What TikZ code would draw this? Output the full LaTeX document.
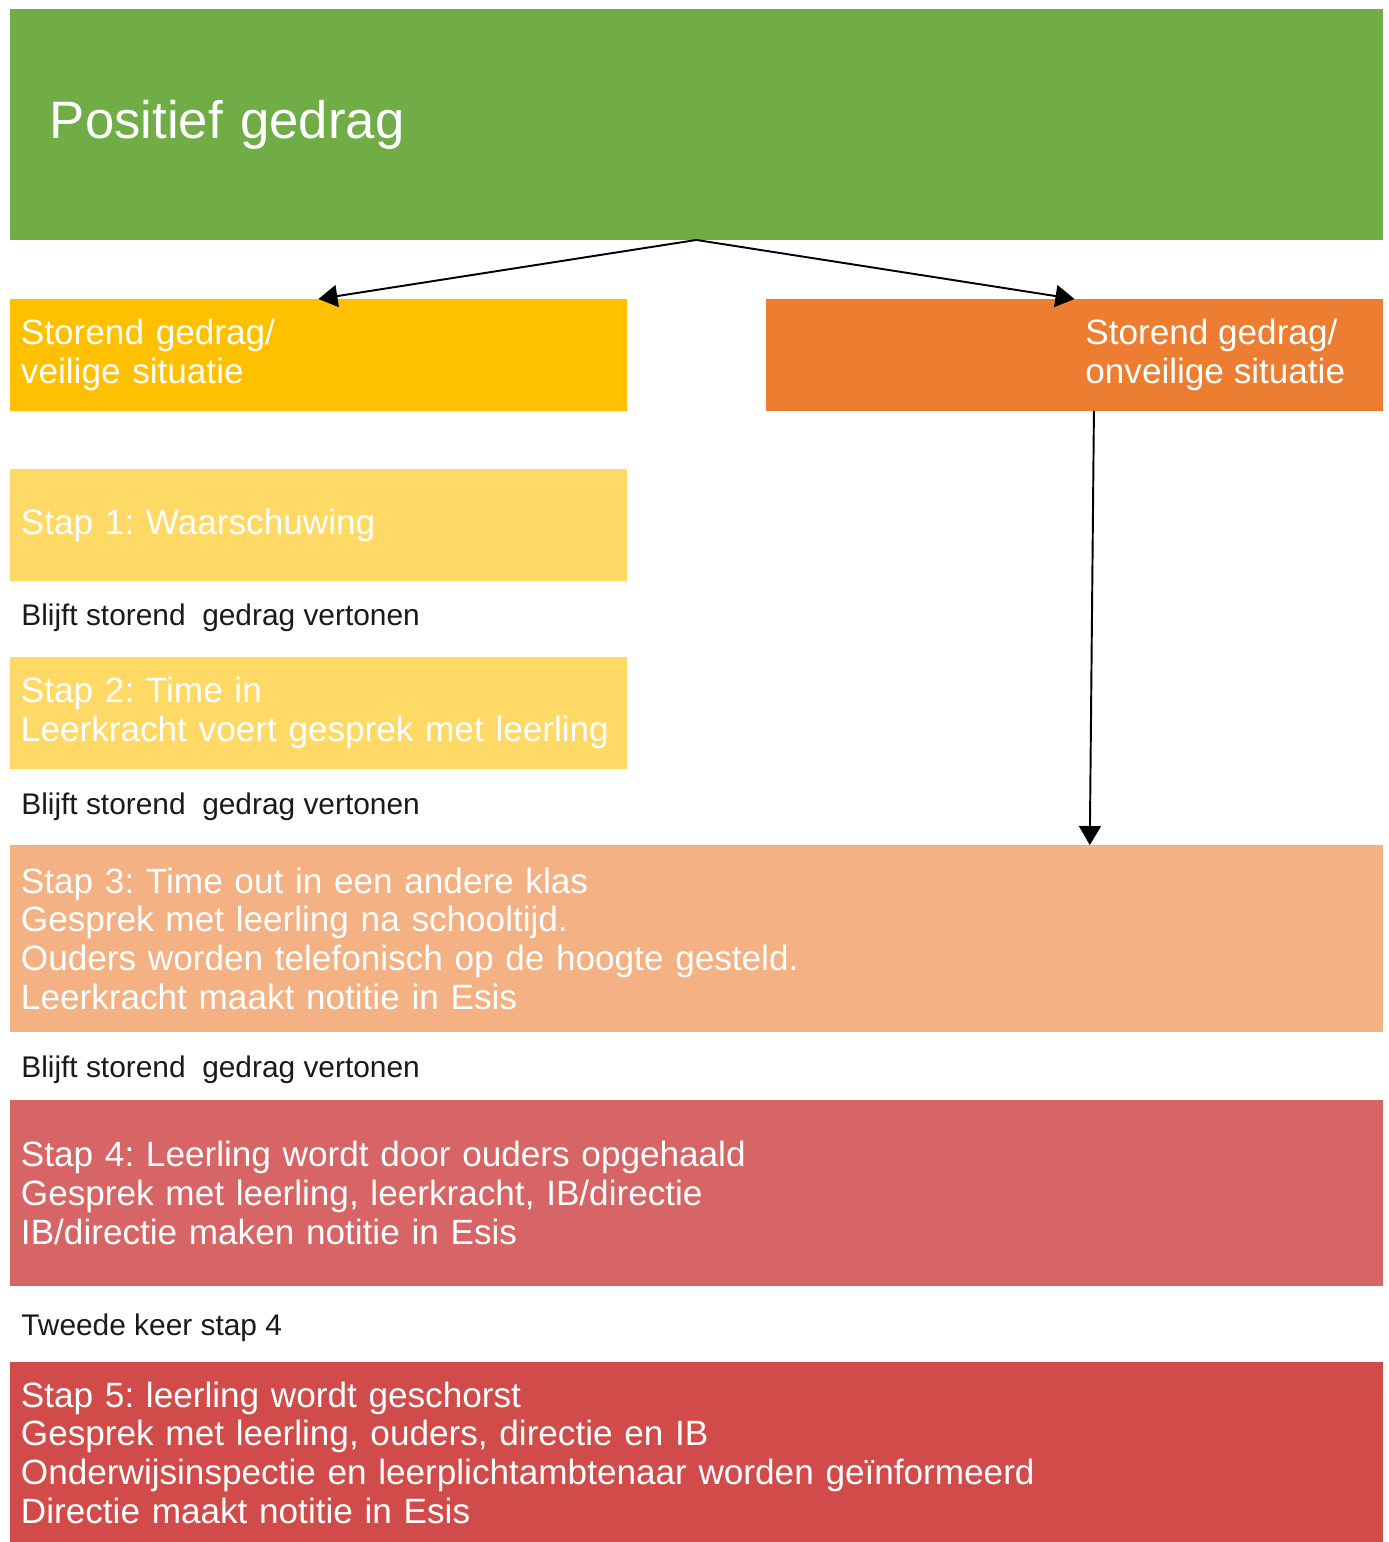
\documentclass[tikz,border=0pt]{standalone}
\usepackage{fontspec}
\setmainfont{Liberation Sans}
\usepackage{tikz}
\usetikzlibrary{arrows.meta,positioning,calc}
\definecolor{Leaf}{HTML}{70AD47}
\definecolor{Amber}{HTML}{FFC000}
\definecolor{Flame}{HTML}{ED7D31}
\definecolor{Butter}{HTML}{FFD966}
\definecolor{Peach}{HTML}{F4B183}
\definecolor{Rose}{HTML}{D86565}
\definecolor{Brick}{HTML}{D14B4B}
\definecolor{Ink}{HTML}{1A1A1A}
\frenchspacing
\hyphenpenalty=10000
\tikzset{
  >={Triangle[length=3.8mm,width=4.4mm]},
  stapbox/.style={rectangle,draw=none,outer sep=0pt,inner xsep=2.2mm,inner ysep=0pt,anchor=north west,text=white,align=left,font=\fontsize{20}{22}\selectfont},
  half/.style={stapbox,text width=11.9cm,minimum height=2.24cm},
  full/.style={stapbox,text width=27.02cm},
  boxtxt/.style={anchor=west,inner sep=0pt,text=white,align=left,font=\fontsize{20}{22}\selectfont},
  note/.style={anchor=west,inner sep=0pt,text=Ink,font=\fontsize{17}{19}\selectfont},
  flow/.style={->,line width=1.1pt,draw=black}
}
\begin{document}
\begin{tikzpicture}[x=0.02cm,y=-0.02cm]
    \useasboundingbox (0,0) rectangle (1389,1542);
    % top and the two branches
    \node[stapbox,fill=Leaf,inner xsep=8mm,text width=25.86cm,minimum height=4.62cm,font=\fontsize{30}{32}\selectfont] (pos) at (10,9) {Positief gedrag};
    \node[half,fill=Amber] (veilig) at (10,299) {Storend gedrag/\\veilige situatie};
    \node[half,fill=Flame] (onveilig) at (766,299) {};
    \node[boxtxt] (onveiligtxt) at (1085,355) {Storend gedrag/\\onveilige situatie};
    % steps
    \node[half,fill=Butter] (stap1) at (10,469) {Stap 1: Waarschuwing};
    \node[note] (blijft1) at (21,618) {Blijft storend~ gedrag vertonen};
    \node[half,fill=Butter] (stap2) at (10,657) {Stap 2: Time in\\Leerkracht voert gesprek met leerling};
    \node[note] (blijft2) at (21,807) {Blijft storend~ gedrag vertonen};
    \node[full,fill=Peach,minimum height=3.74cm] (stap3) at (10,845) {Stap 3: Time out in een andere klas\\Gesprek met leerling na schooltijd.\\Ouders worden telefonisch op de hoogte gesteld.\\Leerkracht maakt notitie in Esis};
    \node[note] (blijft3) at (21,1070) {Blijft storend~ gedrag vertonen};
    \node[full,fill=Rose,minimum height=3.72cm] (stap4) at (10,1100) {Stap 4: Leerling wordt door ouders opgehaald\\Gesprek met leerling, leerkracht, IB/directie\\IB/directie maken notitie in Esis};
    \node[note] (tweede) at (21,1328) {Tweede keer stap 4};
    \node[full,fill=Brick,minimum height=3.62cm] (stap5) at (10,1362) {Stap 5: leerling wordt geschorst\\Gesprek met leerling, ouders, directie en IB\\Onderwijsinspectie en leerplichtambtenaar worden geïnformeerd\\Directie maakt notitie in Esis};
    % arrows
    \draw[flow] (pos.south)--(veilig.north);
    \draw[flow] (pos.south)--(onveilig.north);
    \draw[flow] ([xshift=0.39cm]onveilig.south)--([xshift=7.87cm]stap3.north);
  \end{tikzpicture}
\end{document}
